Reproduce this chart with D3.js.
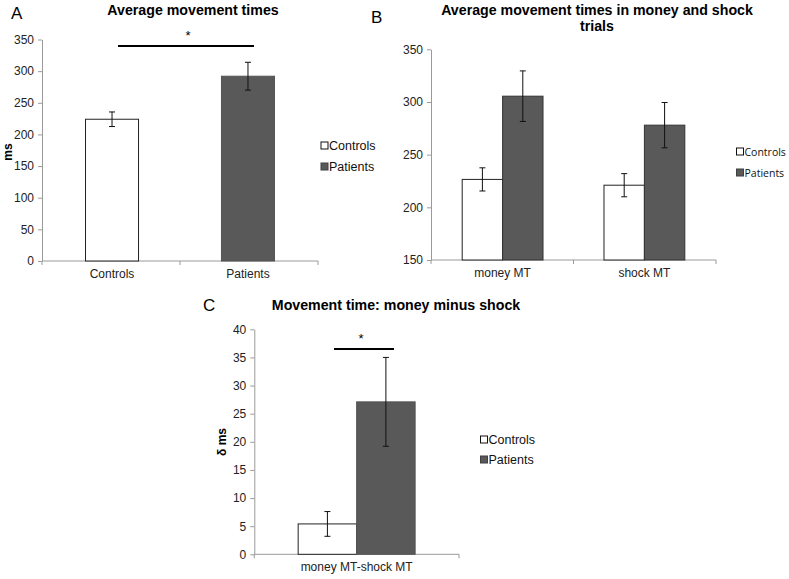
<!DOCTYPE html>
<html>
<head>
<meta charset="utf-8">
<script src="https://cdn.jsdelivr.net/npm/d3@7.9.0/dist/d3.min.js"></script>
<style>
  body { margin: 0; background: #fff; }
  svg { font-family: "Liberation Sans", Arial, sans-serif; }
  .axis path, .axis line { stroke: #9a9a9a; }
  .axis text { fill: #222; font-size: 12px; }
  .title { font-weight: bold; font-size: 14.2px; }
</style>
</head>
<body>
<svg id="chart" width="789" height="579"></svg>
<script>
const groups = ['Controls', 'Patients'];
const colors = { Controls: '#ffffff', Patients: '#595959' };

// panel A
const aCats = ['Controls', 'Patients'];
const aMeans = [224, 292];
const aErr = [11.5, 22];

// panel B
const bCats = ['money MT', 'shock MT'];
const bControls = [226.5, 221];
const bControlsErr = [11, 11];
const bPatients = [305.5, 278];
const bPatientsErr = [24, 21.5];

// panel C
const cCats = ['money MT-shock MT'];
const cControls = [5.4];
const cControlsErr = [2.2];
const cPatients = [27.1];
const cPatientsErr = [7.9];

const svg = d3.select('#chart');

function yAxisDraw(g, y, x0, ticks) {
  g.append('g')
    .attr('class', 'axis')
    .attr('transform', `translate(${x0},0)`)
    .call(d3.axisLeft(y).tickValues(ticks).tickSize(4).tickSizeOuter(0).tickPadding(4))
    .call(s => s.selectAll('text').attr('font-family', null));
}

function xAxisDraw(g, x, x0, x1, yb, cats) {
  const ax = g.append('g').attr('class', 'axis');
  ax.append('line').attr('x1', x0).attr('x2', x1).attr('y1', yb).attr('y2', yb);
  const step = (x1 - x0) / cats.length;
  d3.range(cats.length + 1).forEach(i => {
    ax.append('line').attr('x1', x0 + i * step).attr('x2', x0 + i * step)
      .attr('y1', yb).attr('y2', yb + 4);
  });
  cats.forEach(c => {
    ax.append('text').attr('x', x(c) + x.bandwidth() / 2).attr('y', yb + 17)
      .attr('text-anchor', 'middle').text(c);
  });
}

function errBar(g, cx, y, v, e) {
  g.append('line').attr('x1', cx).attr('x2', cx).attr('y1', y(v + e)).attr('y2', y(v - e))
    .attr('stroke', '#111').attr('stroke-width', 1);
  [v + e, v - e].forEach(t => {
    g.append('line').attr('x1', cx - 3).attr('x2', cx + 3).attr('y1', y(t)).attr('y2', y(t))
      .attr('stroke', '#111').attr('stroke-width', 1);
  });
}

function legend(g, x, y, gap, fs, family) {
  groups.forEach((k, i) => {
    g.append('rect').attr('x', x).attr('y', y + i * gap - 4).attr('width', 7).attr('height', 7)
      .attr('fill', colors[k]).attr('stroke', k === 'Controls' ? '#111' : '#404040');
    g.append('text').attr('x', x + 8).attr('y', y + i * gap + 4).attr('font-size', fs)
      .attr('font-family', family).attr('fill', '#111').text(k);
  });
}

// ---------- Panel A ----------
{
  const g = svg.append('g');
  const y = d3.scaleLinear().domain([0, 350]).range([261, 39.5]);
  const x = d3.scaleBand().domain(aCats).range([42, 318]).paddingInner(0.61).paddingOuter(0.32);
  yAxisDraw(g, y, 42, d3.range(0, 351, 50));
  xAxisDraw(g, x, 42, 318, 261, aCats);
  aCats.forEach((c, i) => {
    g.append('rect').attr('x', x(c)).attr('y', y(aMeans[i]))
      .attr('width', x.bandwidth()).attr('height', y(0) - y(aMeans[i]))
      .attr('fill', colors[groups[i]]).attr('stroke', i === 0 ? '#222' : '#555');
    errBar(g, x(c) + x.bandwidth() / 2, y, aMeans[i], aErr[i]);
  });
  g.append('line').attr('x1', 118).attr('x2', 254).attr('y1', 46).attr('y2', 46)
    .attr('stroke', '#000').attr('stroke-width', 2);
  g.append('text').attr('x', 188).attr('y', 40).attr('text-anchor', 'middle').attr('font-size', 13).text('*');
  g.append('text').attr('class', 'title').attr('x', 193).attr('y', 15).attr('text-anchor', 'middle').text('Average movement times');
  g.append('text').attr('x', 11).attr('y', 19).attr('font-size', 17).text('A');
  g.append('text').attr('transform', 'translate(12,152) rotate(-90)').attr('text-anchor', 'middle')
    .attr('font-weight', 'bold').attr('font-size', 12).text('ms');
  legend(g, 321, 146, 21, 12.5);
}

// ---------- Panel B ----------
{
  const g = svg.append('g');
  const y = d3.scaleLinear().domain([150, 350]).range([260, 49.3]);
  const x = d3.scaleBand().domain(bCats).range([431, 716]).paddingInner(0.43).paddingOuter(0.22);
  const xs = d3.scaleBand().domain(groups).range([0, x.bandwidth()]);
  yAxisDraw(g, y, 431, d3.range(150, 351, 50));
  xAxisDraw(g, x, 431, 716, 260, bCats);
  const series = { Controls: [bControls, bControlsErr], Patients: [bPatients, bPatientsErr] };
  bCats.forEach((c, i) => {
    groups.forEach(k => {
      const v = series[k][0][i];
      const bx = x(c) + xs(k);
      g.append('rect').attr('x', bx).attr('y', y(v)).attr('width', xs.bandwidth())
        .attr('height', y(150) - y(v)).attr('fill', colors[k]).attr('stroke', k === 'Controls' ? '#222' : '#333');
      errBar(g, bx + xs.bandwidth() / 2, y, v, series[k][1][i]);
    });
  });
  g.append('text').attr('class', 'title').attr('x', 597).attr('y', 15).attr('text-anchor', 'middle')
    .text('Average movement times in money and shock');
  g.append('text').attr('class', 'title').attr('x', 597).attr('y', 31).attr('text-anchor', 'middle').text('trials');
  g.append('text').attr('x', 371).attr('y', 23).attr('font-size', 17).text('B');
  legend(g, 736.5, 152, 21, 10.5, '"Open Sans", sans-serif');
}

// ---------- Panel C ----------
{
  const g = svg.append('g');
  const y = d3.scaleLinear().domain([0, 40]).range([554.3, 329.3]);
  const x = d3.scaleBand().domain(cCats).range([254.3, 459]).paddingInner(0).paddingOuter(0.375);
  const xs = d3.scaleBand().domain(groups).range([0, x.bandwidth()]);
  yAxisDraw(g, y, 254.3, d3.range(0, 41, 5));
  xAxisDraw(g, x, 254.3, 459, 554.3, cCats);
  const series = { Controls: [cControls, cControlsErr], Patients: [cPatients, cPatientsErr] };
  groups.forEach(k => {
    const v = series[k][0][0];
    const bx = x(cCats[0]) + xs(k);
    g.append('rect').attr('x', bx).attr('y', y(v)).attr('width', xs.bandwidth())
      .attr('height', y(0) - y(v)).attr('fill', colors[k]).attr('stroke', k === 'Controls' ? '#222' : '#555');
    errBar(g, bx + xs.bandwidth() / 2, y, v, series[k][1][0]);
  });
  g.append('line').attr('x1', 334).attr('x2', 394).attr('y1', 349).attr('y2', 349)
    .attr('stroke', '#000').attr('stroke-width', 2);
  g.append('text').attr('x', 361).attr('y', 343).attr('text-anchor', 'middle').attr('font-size', 13).text('*');
  g.append('text').attr('class', 'title').attr('x', 396).attr('y', 310).attr('text-anchor', 'middle')
    .text('Movement time: money minus shock');
  g.append('text').attr('x', 203).attr('y', 311).attr('font-size', 17).text('C');
  g.append('text').attr('transform', 'translate(226,442) rotate(-90)').attr('text-anchor', 'middle')
    .attr('font-weight', 'bold').attr('font-size', 12).text('δ ms');
  legend(g, 480.5, 440, 20, 12.5);
}
</script>
</body>
</html>
